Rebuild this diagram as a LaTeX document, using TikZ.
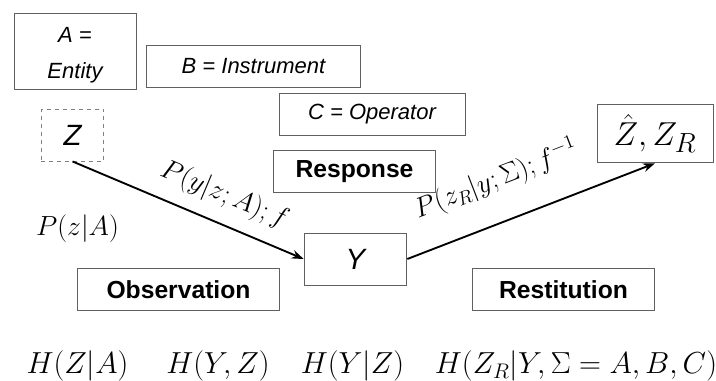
\documentclass[tikz,border=0pt]{standalone}
\usepackage{fontspec}
\setsansfont{Liberation Sans}
\usepackage{amsmath,amssymb}
\usetikzlibrary{arrows.meta}
\newcommand{\bigeq}[1]{\scalebox{1.1}{$#1$}}

\begin{document}
\begin{tikzpicture}[x=0.75pt,y=-0.75pt,>={Stealth[length=9pt,width=6.5pt]},box/.style={draw=gray!75!black,line width=0.7pt,inner sep=0pt,align=center,font=\fontsize{16.5}{27}\selectfont\sffamily\itshape},tbox/.style={box,font=\fontsize{18.5}{22}\selectfont\sffamily\bfseries},vbox/.style={box,font=\fontsize{22}{26}\selectfont\sffamily\itshape},eq/.style={font=\fontsize{20.74}{25}\selectfont},lab/.style={font=\fontsize{20.74}{24}\selectfont}]
\useasboundingbox (0,0) rectangle (716,381);
\node[box,minimum width=91.5pt,minimum height=57pt] (a) at (75,51) {\rule{0pt}{18pt}A =\\Entity};
\node[box,minimum width=161pt,minimum height=31pt] (b) at (253.5,66.5) {B = Instrument};
\node[box,minimum width=139.5pt,minimum height=31pt] (c) at (372,114.5) {C = Operator};
\node[vbox,draw=gray,dashed,minimum width=47pt,minimum height=39pt] (z) at (72.5,135) {Z};
\node[box,font=\fontsize{24.88}{28}\selectfont,minimum width=87pt,minimum height=44pt] (zr) at (655,133.5) {$\hat{Z},Z_R$};
\node[tbox,minimum width=122pt,minimum height=31pt] (resp) at (354.5,171.5) {Response};
\node[vbox,minimum width=77pt,minimum height=39pt] (y) at (355.5,259) {Y};
\node[tbox,minimum width=151pt,minimum height=31pt] (obs) at (178.5,289.5) {Observation};
\node[tbox,minimum width=136pt,minimum height=31pt] (rest) at (563.5,289.5) {Restitution};
\node[lab] (pz) at (77.5,229) {$P(z|A)$};
\draw[->,line width=1.4pt] (z.south)--node[lab,sloped,above=6.5pt,pos=0.61]{$P(y|z;A);f$}(y.west);
\draw[->,line width=1.4pt] (y.east)--node[lab,sloped,above=16.5pt,pos=0.42]{$P(z_R|y;\Sigma);f^{-1}$}(zr.south);
\node[eq] (h1) at (77.5,366) {\bigeq{H(Z|A)}};
\node[eq] (h2) at (218,366) {\bigeq{H(Y,Z)}};
\node[eq] (h3) at (352.5,366) {\bigeq{H(Y|Z)}};
\node[eq] (h4) at (576,366) {\bigeq{H(Z_R|Y,\Sigma=A,B,C)}};
\end{tikzpicture}
\end{document}
